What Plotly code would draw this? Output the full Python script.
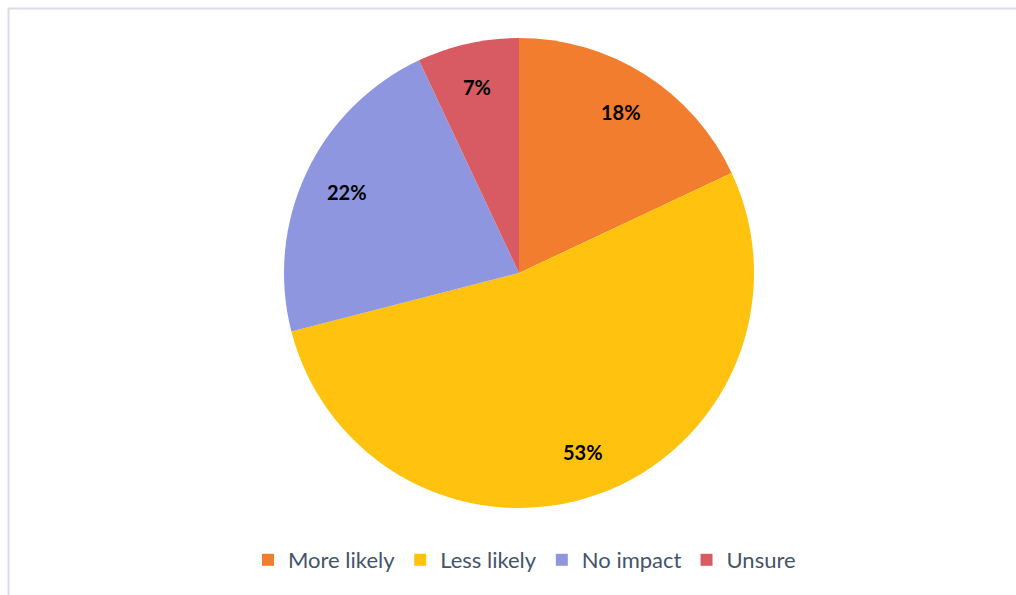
import math
import plotly.graph_objects as go

labels = ["More likely", "Less likely", "No impact", "Unsure"]
values = [18, 53, 22, 7]
colors = ["#F27D2E", "#FFC20E", "#8E96E0", "#D85B63"]

W, H = 1016, 595
cx, cy, R = 519, 273, 235

fig = go.Figure()
fig.add_trace(go.Pie(
    labels=labels, values=values, sort=False, direction="clockwise", rotation=0,
    marker=dict(colors=colors, line=dict(width=0)),
    textinfo="none", hoverinfo="label+percent",
    domain=dict(x=[(cx - R) / W, (cx + R) / W], y=[1 - (cy + R) / H, 1 - (cy - R) / H]),
))

# percentage labels at ~0.81 radius of each slice's mid-angle
total = sum(values)
cum = 0
annotations = []
for v in values:
    mid = (cum + v / 2) / total * 2 * math.pi
    cum += v
    px = cx + 0.81 * R * math.sin(mid)
    py = cy - 0.81 * R * math.cos(mid)
    annotations.append(dict(
        x=px / W, y=1 - py / H, xref="paper", yref="paper", showarrow=False,
        xanchor="center", yanchor="middle",
        text=f"<b>{round(v / total * 100)}%</b>",
        font=dict(family="Lato", size=20, color="#000000"),
    ))

fig.update_layout(
    width=W, height=H, margin=dict(l=0, r=0, t=0, b=0),
    paper_bgcolor="white", plot_bgcolor="white",
    annotations=annotations,
    showlegend=True,
    legend=dict(orientation="h", x=524.5 / W, xanchor="center", y=1 - 560 / H, yanchor="middle",
                font=dict(family="Lato", size=22, color="#44546A"),
                itemwidth=30, traceorder="normal"),
    shapes=[dict(type="rect", xref="paper", yref="paper",
                 x0=8.5 / W, x1=1.02, y0=-0.02, y1=1 - 8.5 / H,
                 line=dict(color="#D9DDE3", width=2), fillcolor="rgba(0,0,0,0)")],
)

fig.write_html("out.html")
